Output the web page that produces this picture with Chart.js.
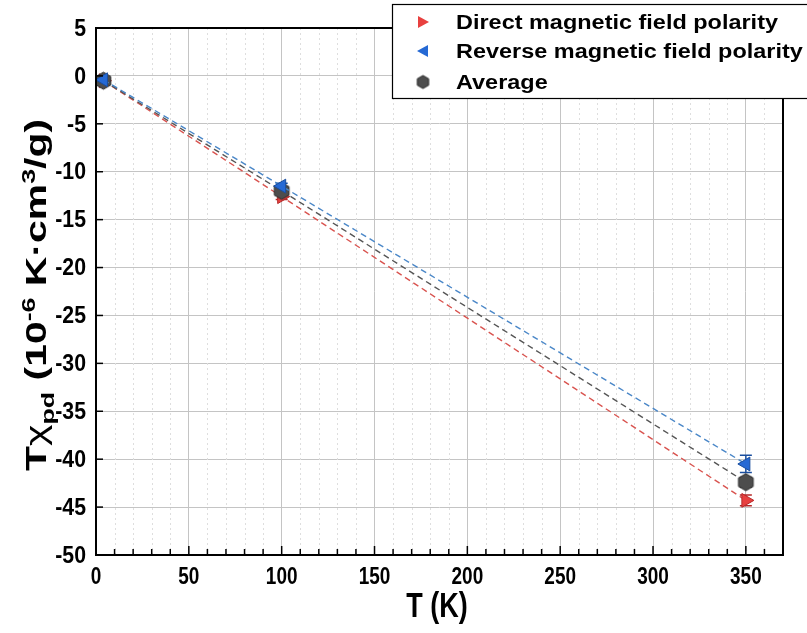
<!DOCTYPE html>
<html><head><meta charset="utf-8">
<script src="https://cdn.jsdelivr.net/npm/chart.js@4.4.1/dist/chart.umd.min.js"></script>
<style>html,body{margin:0;padding:0;background:#fff;}#wrap{width:807px;height:633px;position:relative;}</style>
</head><body><div id="wrap"><canvas id="c" width="807" height="633"></canvas></div>
<script>
const temps = [4, 100, 350];
const directVals = [-0.5, -12.6, -44.3];
const reverseVals = [-0.4, -11.5, -40.5];
const averageVals = [-0.5, -12.0, -42.4];
const directErr = [0.2, 0.3, 0.55];
const reverseErr = [0.2, 0.3, 0.9];
const averageErr = [0.2, 0.3, 0.5];
const seriesNames = ['Direct magnetic field polarity', 'Reverse magnetic field polarity', 'Average'];
const xTicks = [0, 50, 100, 150, 200, 250, 300, 350];
const yTicks = [5, 0, -5, -10, -15, -20, -25, -30, -35, -40, -45, -50];

const FONT = '"Liberation Sans", Arial, sans-serif';
const VSTRETCH = 1.28;

function hexCanvas(r, fill, stroke) {
  const s = Math.ceil(r * 2 + 4);
  const cv = document.createElement('canvas');
  cv.width = s; cv.height = s;
  const g = cv.getContext('2d');
  g.beginPath();
  for (let i = 0; i < 6; i++) {
    const a = Math.PI / 180 * (60 * i - 90);
    const px = s / 2 + r * Math.cos(a), py = s / 2 + r * Math.sin(a);
    i ? g.lineTo(px, py) : g.moveTo(px, py);
  }
  g.closePath();
  g.fillStyle = fill; g.fill();
  g.strokeStyle = stroke; g.lineWidth = 1; g.stroke();
  return cv;
}
const hexImg = hexCanvas(8.5, '#4d4d4d', '#2b2b2b');

const colors = {
  direct: {fill: '#e8403f', edge: '#b52a2a', line: '#d9534f'},
  reverse: {fill: '#2569d4', edge: '#1a4e9e', line: '#4a87c8'},
  average: {fill: '#4d4d4d', edge: '#2b2b2b', line: '#555555'}
};

function pts(vals) { return temps.map((t, i) => ({x: t, y: vals[i]})); }

function stretchedText(ctx, text, x, y, sx, sy) {
  ctx.save();
  ctx.translate(x, y);
  ctx.scale(sx, sy);
  ctx.fillText(text, 0, 0);
  ctx.restore();
}

const errPlugin = {
  id: 'errbars',
  beforeDatasetsDraw(chart) {
    const ctx = chart.ctx, xs = chart.scales.x, ys = chart.scales.y;
    chart.data.datasets.forEach(ds => {
      ctx.save();
      ctx.strokeStyle = ds.errColor; ctx.lineWidth = 1.5;
      ds.data.forEach((p, i) => {
        const e = ds.err[i];
        const px = xs.getPixelForValue(p.x);
        const y1 = ys.getPixelForValue(p.y + e), y2 = ys.getPixelForValue(p.y - e);
        ctx.beginPath();
        ctx.moveTo(px, y1); ctx.lineTo(px, y2);
        ctx.moveTo(px - 6, y1); ctx.lineTo(px + 6, y1);
        ctx.moveTo(px - 6, y2); ctx.lineTo(px + 6, y2);
        ctx.stroke();
      });
      ctx.restore();
    });
  }
};

const framePlugin = {
  id: 'frame',
  beforeDatasetsDraw(chart) {
    const ctx = chart.ctx, a = chart.chartArea, xs = chart.scales.x;
    ctx.save();
    ctx.strokeStyle = '#dedede'; ctx.lineWidth = 1; ctx.setLineDash([2, 3]);
    for (let v = 10; v < 370; v += 10) {
      if (v % 50 === 0) continue;
      const px = Math.round(xs.getPixelForValue(v)) + 0.5;
      ctx.beginPath(); ctx.moveTo(px, a.top); ctx.lineTo(px, a.bottom); ctx.stroke();
    }
    ctx.restore();
  },
  afterDraw(chart) {
    const ctx = chart.ctx, a = chart.chartArea, xs = chart.scales.x, ys = chart.scales.y;
    ctx.save();
    ctx.strokeStyle = '#000'; ctx.lineWidth = 2;
    ctx.strokeRect(a.left, a.top, a.right - a.left, a.bottom - a.top);
    ctx.lineWidth = 1.5;
    for (let v = 10; v < 370; v += 10) {
      const px = xs.getPixelForValue(v);
      const len = v % 50 === 0 ? 9 : 6;
      ctx.beginPath(); ctx.moveTo(px, a.bottom); ctx.lineTo(px, a.bottom - len); ctx.stroke();
    }
    yTicks.forEach(v => {
      const py = ys.getPixelForValue(v);
      ctx.beginPath(); ctx.moveTo(a.left, py); ctx.lineTo(a.left + 7, py); ctx.stroke();
    });
    ctx.fillStyle = '#000';
    // tick labels
    ctx.font = 'bold 19px ' + FONT;
    ctx.textBaseline = 'middle';
    ctx.textAlign = 'center';
    xTicks.forEach(v => stretchedText(ctx, String(v), xs.getPixelForValue(v), 577, 1, VSTRETCH));
    ctx.textAlign = 'right';
    yTicks.forEach(v => stretchedText(ctx, String(v), 86, ys.getPixelForValue(v) + 1, 1.12, VSTRETCH));
    // x title
    ctx.font = 'bold 27px ' + FONT;
    ctx.textAlign = 'center'; ctx.textBaseline = 'middle';
    stretchedText(ctx, 'T (K)', 437, 607, 1, VSTRETCH);
    // y title with sub/superscripts
    ctx.save();
    ctx.translate(35, 295);
    ctx.rotate(-Math.PI / 2);
    const parts = [
      {t: 'T', s: 29, dy: 0},
      {t: 'χ', s: 29, dy: 0, normal: true},
      {t: 'pd', s: 19, dy: 8},
      {t: ' (10', s: 29, dy: 0},
      {t: '-6', s: 19, dy: -11},
      {t: ' K·cm', s: 29, dy: 0},
      {t: '3', s: 19, dy: -11},
      {t: '/g)', s: 29, dy: 0}
    ];
    let total = 0;
    parts.forEach(p => { ctx.font = (p.normal ? '' : 'bold ') + p.s + 'px ' + FONT; p.w = ctx.measureText(p.t).width; total += p.w; });
    const sx = 352 / total;
    ctx.scale(sx, 1);
    let x0 = -total / 2;
    ctx.textAlign = 'left'; ctx.textBaseline = 'alphabetic';
    parts.forEach(p => {
      ctx.font = (p.normal ? '' : 'bold ') + p.s + 'px ' + FONT;
      ctx.fillText(p.t, x0, 11 + p.dy);
      x0 += p.w;
    });
    ctx.restore();
    // legend
    const lx = 392, ly = 4, lw = 430, lh = 94;
    ctx.fillStyle = '#fff';
    ctx.fillRect(lx, ly, lw, lh);
    ctx.strokeStyle = '#000'; ctx.lineWidth = 1.2;
    ctx.strokeRect(lx + 0.5, ly + 0.5, lw, lh);
    const rows = [22, 51, 82];
    ctx.font = 'bold 20px ' + FONT;
    ctx.textAlign = 'left'; ctx.textBaseline = 'middle';
    ctx.fillStyle = '#000';
    const w0 = ctx.measureText(seriesNames[0]).width;
    const lsx = 322 / w0;
    seriesNames.forEach((n, i) => stretchedText(ctx, n, 456, rows[i] + 1, lsx, 1.05));
    // markers
    const mx = 423;
    ctx.fillStyle = colors.direct.fill;
    ctx.beginPath(); ctx.moveTo(mx - 5, rows[0] - 6); ctx.lineTo(mx + 6, rows[0]); ctx.lineTo(mx - 5, rows[0] + 6); ctx.closePath(); ctx.fill();
    ctx.fillStyle = colors.reverse.fill;
    ctx.beginPath(); ctx.moveTo(mx + 5, rows[1] - 6); ctx.lineTo(mx - 6, rows[1]); ctx.lineTo(mx + 5, rows[1] + 6); ctx.closePath(); ctx.fill();
    ctx.drawImage(hexCanvas(6.5, '#4d4d4d', '#2b2b2b'), mx - 8.5, rows[2] - 8.5);
    ctx.restore();
  }
};

new Chart(document.getElementById('c'), {
  type: 'scatter',
  data: {
    datasets: [
      {label: seriesNames[0], data: pts(directVals), err: directErr, errColor: colors.direct.edge,
       showLine: true, borderDash: [6, 4], borderColor: colors.direct.line, borderWidth: 1.4,
       pointStyle: 'triangle', rotation: 90, pointRadius: 8, pointBackgroundColor: colors.direct.fill,
       pointBorderColor: colors.direct.edge, pointBorderWidth: 1, order: 2},
      {label: seriesNames[1], data: pts(reverseVals), err: reverseErr, errColor: colors.reverse.edge,
       showLine: true, borderDash: [6, 4], borderColor: colors.reverse.line, borderWidth: 1.4,
       pointStyle: 'triangle', rotation: -90, pointRadius: 8, pointBackgroundColor: colors.reverse.fill,
       pointBorderColor: colors.reverse.edge, pointBorderWidth: 1, order: 0},
      {label: seriesNames[2], data: pts(averageVals), err: averageErr, errColor: colors.average.edge,
       showLine: true, borderDash: [6, 4], borderColor: colors.average.line, borderWidth: 1.4,
       pointStyle: hexImg, pointRadius: 9, order: 1}
    ]
  },
  options: {
    responsive: false, animation: false, events: [],
    layout: {padding: {top: 28, right: 24, left: 0, bottom: 0}},
    plugins: {legend: {display: false}, tooltip: {enabled: false}},
    scales: {
      x: {
        type: 'linear', min: 0, max: 370,
        afterBuildTicks(s) { s.ticks = xTicks.map(v => ({value: v})); },
        afterFit(s) { s.height = 78; },
        grid: {color: '#c4c4c4', lineWidth: 1, drawTicks: false},
        border: {display: false},
        ticks: {display: false}
      },
      y: {
        type: 'linear', min: -50, max: 5,
        afterBuildTicks(s) { s.ticks = yTicks.map(v => ({value: v})); },
        afterFit(s) { s.width = 96; },
        grid: {color: '#c4c4c4', lineWidth: 1, drawTicks: false},
        border: {display: false},
        ticks: {display: false}
      }
    }
  },
  plugins: [framePlugin, errPlugin]
});
</script></body></html>
